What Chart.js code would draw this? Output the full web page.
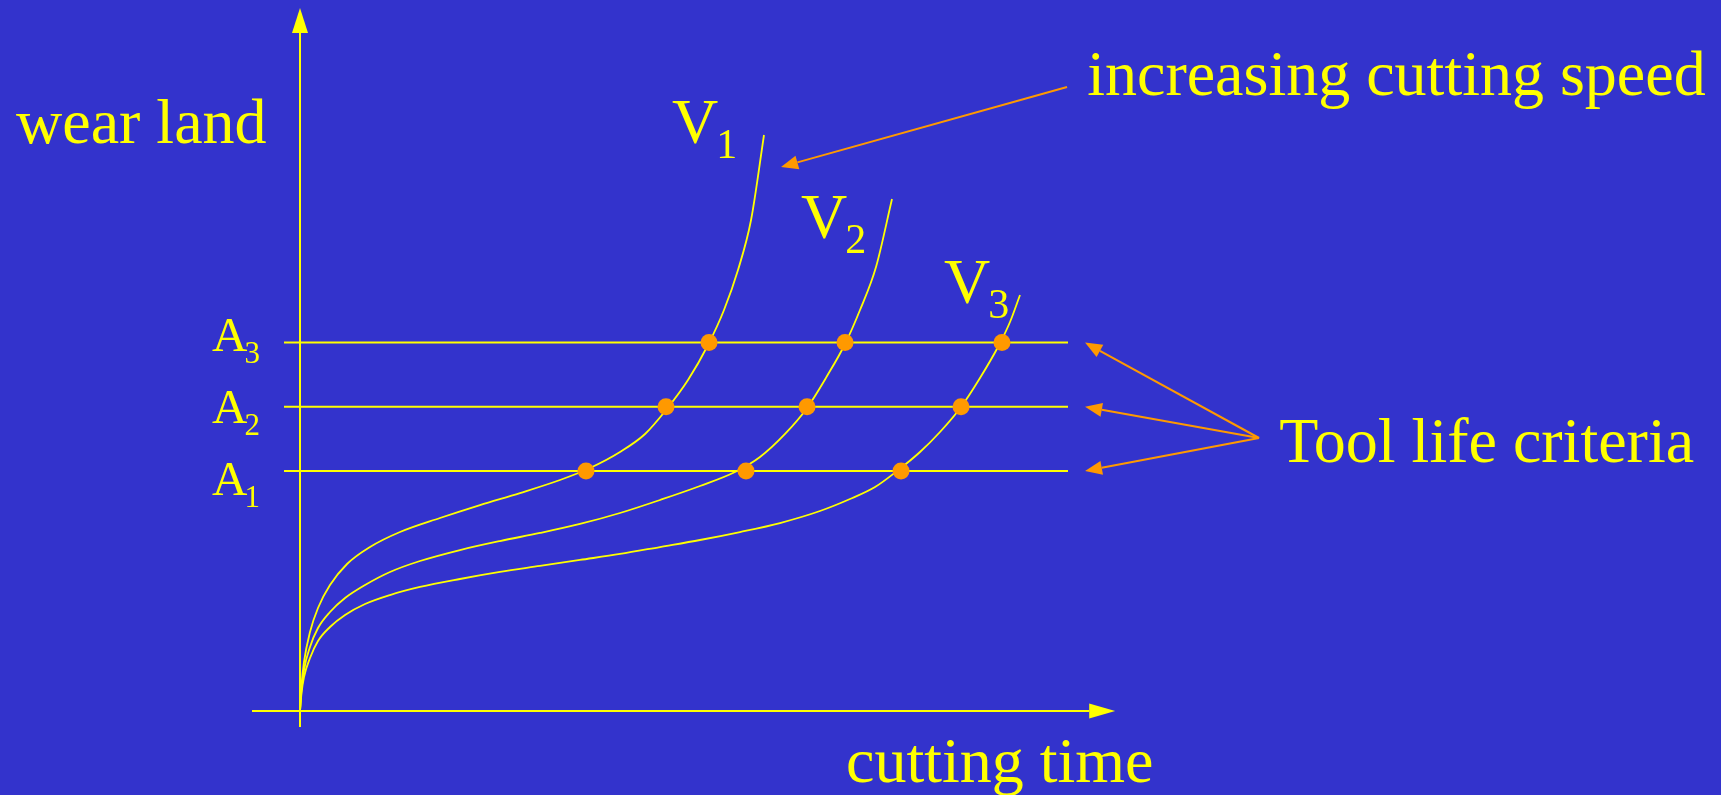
<!DOCTYPE html>
<html>
<head>
<meta charset="utf-8">
<script src="https://cdn.jsdelivr.net/npm/chart.js@4/dist/chart.umd.min.js"></script>
<style>
  html, body { margin: 0; padding: 0; background: #3333CC; overflow: hidden; }
  #wrap { width: 1721px; height: 795px; }
</style>
</head>
<body>
<div id="wrap"><canvas id="c" width="1721" height="795"></canvas></div>
<script>
// ---- data (cutting time and wear land in arbitrary units) ----
const seriesNames = ["V1", "V2", "V3"];
const timeV1 = [0, 0.19, 0.5, 1.25, 2.25, 3.75, 5.88, 8.75, 12.5, 17.5, 22.5, 27.5, 32.5, 36.25, 40, 43.13, 45.75, 48.5, 51, 53, 54.75, 56.38, 58];
const wearV1 = [0, 4.33, 8.17, 13.17, 17.17, 21, 24.5, 27.33, 29.83, 32.17, 34.33, 36.33, 38.5, 40.5, 43.17, 46.17, 50.17, 55.17, 61, 66.83, 73.5, 81.83, 96];
const timeV2 = [0, 0.19, 0.5, 1.25, 2.25, 3.75, 5.63, 8.13, 11.25, 15, 20, 25, 30, 35, 40, 45, 50, 54.38, 57.5, 60.63, 63.38, 65.88, 68.13, 70, 72, 74];
const wearV2 = [0, 3.5, 6.83, 10.67, 13.83, 16.5, 18.83, 21, 23.17, 25, 26.83, 28.33, 29.67, 31.17, 33, 35.17, 37.5, 39.83, 42.33, 46.17, 50.5, 55.83, 61.17, 66.83, 74, 85.33];
const timeV3 = [0, 0.19, 0.5, 1.25, 2.25, 3.75, 5.63, 8.13, 11.25, 15, 20, 25, 30, 35, 40, 45, 50, 55, 60, 65, 68.75, 71.88, 74.63, 77.5, 80, 82.63, 85, 87.38, 88.75, 90];
const wearV3 = [0, 3, 5.67, 8.83, 11.67, 14, 16, 17.83, 19.33, 20.67, 22, 23.17, 24.17, 25.17, 26.17, 27.33, 28.5, 29.83, 31.33, 33.33, 35.33, 37.33, 40, 43.17, 46.5, 50.67, 55.5, 61, 64.83, 69.33];

const criteriaNames = ["A1", "A2", "A3"];
const criteriaLevels = [40, 50.7, 61.4];
const criteriaSpan = [-2, 96];
const toolLifeV1 = [35.75, 45.75, 51.13];
const toolLifeV2 = [55.75, 63.38, 68.13];
const toolLifeV3 = [75.13, 82.63, 87.75];

const axisXSpan = [-6, 101.9];
const axisYSpan = [-2.67, 117.17];

const labelTitleY = "wear land";
const labelTitleX = "cutting time";
const labelSpeed = "increasing cutting speed";
const labelCriteria = "Tool life criteria";

// ---- styles ----
const BG = "#3333CC";
const YEL = "#FFFF00";
const ORG = "#FF9900";
const FONT = "'Liberation Serif', 'Times New Roman', serif";

const zip = (xs, ys) => xs.map((x, i) => ({ x: x, y: ys[i] }));

const dotPoints = [];
[toolLifeV1, toolLifeV2, toolLifeV3].forEach(arr => arr.forEach((t, i) => dotPoints.push({ x: t, y: criteriaLevels[i] })));

const datasets = [
  { label: "tool life", data: dotPoints, showLine: false, pointRadius: 8.5, pointHoverRadius: 8.5,
    pointBackgroundColor: ORG, pointBorderWidth: 0, clip: false }
];
[[timeV1, wearV1], [timeV2, wearV2], [timeV3, wearV3]].forEach((s, i) => {
  datasets.push({ label: seriesNames[i], data: zip(s[0], s[1]), showLine: true, pointRadius: 0,
    borderColor: YEL, borderWidth: 1.8, cubicInterpolationMode: "monotone", clip: false });
});
criteriaLevels.forEach((lv, i) => {
  datasets.push({ label: criteriaNames[i], data: [{ x: criteriaSpan[0], y: lv }, { x: criteriaSpan[1], y: lv }],
    showLine: true, pointRadius: 0, borderColor: YEL, borderWidth: 2, tension: 0, clip: false });
});

function arrow(ctx, x1, y1, x2, y2, len, half, color, lw) {
  const a = Math.atan2(y2 - y1, x2 - x1);
  const bx = x2 - len * Math.cos(a), by = y2 - len * Math.sin(a);
  ctx.save();
  ctx.strokeStyle = color; ctx.fillStyle = color; ctx.lineWidth = lw;
  ctx.beginPath(); ctx.moveTo(x1, y1); ctx.lineTo(bx, by); ctx.stroke();
  ctx.beginPath();
  ctx.moveTo(x2, y2);
  ctx.lineTo(bx + half * Math.sin(a), by - half * Math.cos(a));
  ctx.lineTo(bx - half * Math.sin(a), by + half * Math.cos(a));
  ctx.closePath(); ctx.fill();
  ctx.restore();
}

const deco = {
  id: "deco",
  beforeDraw(chart) {
    const ctx = chart.ctx;
    ctx.save(); ctx.fillStyle = BG; ctx.fillRect(0, 0, chart.width, chart.height); ctx.restore();
  },
  beforeDatasetsDraw(chart) {
    const ctx = chart.ctx, xs = chart.scales.x, ys = chart.scales.y;
    const x0 = xs.getPixelForValue(0), y0 = ys.getPixelForValue(0);
    arrow(ctx, xs.getPixelForValue(axisXSpan[0]), y0, xs.getPixelForValue(axisXSpan[1]), y0, 26, 7.5, YEL, 2);
    arrow(ctx, x0, ys.getPixelForValue(axisYSpan[0]), x0, ys.getPixelForValue(axisYSpan[1]), 25, 8, YEL, 2);
  },
  afterDraw(chart) {
    const ctx = chart.ctx, xs = chart.scales.x, ys = chart.scales.y;
    const px = v => xs.getPixelForValue(v), py = v => ys.getPixelForValue(v);
    ctx.save();
    ctx.fillStyle = YEL;
    ctx.textBaseline = "alphabetic";
    ctx.textAlign = "left";
    const big = "64px " + FONT;
    ctx.font = big;
    ctx.fillText(labelTitleY, px(-35.5), py(94.67));
    ctx.fillText(labelTitleX, px(68.25), py(-11.83));
    ctx.fillText(labelSpeed, px(98.4), py(102.67));
    ctx.fillText(labelCriteria, px(122.4), py(41.5));
    const vPos = [[46.5, 94.67], [62.63, 78.83], [80.5, 68]];
    vPos.forEach((p, i) => {
      ctx.font = big;
      const x = px(p[0]), y = py(p[1]);
      ctx.fillText("V", x, y);
      const w = ctx.measureText("V").width;
      ctx.font = "42px " + FONT;
      ctx.fillText(seriesNames[i].slice(1), x + w - 2, y + 15);
    });
    const aOffsets = [24, 16, 8];
    criteriaLevels.forEach((lv, i) => {
      ctx.font = "49px " + FONT;
      const x = px(-11), y = py(lv) + aOffsets[i];
      ctx.fillText("A", x, y);
      const w = ctx.measureText("A").width;
      ctx.font = "31px " + FONT;
      ctx.fillText(criteriaNames[i].slice(1), x + w - 3, y + 12);
    });
    ctx.restore();
    arrow(ctx, px(95.88), py(104), px(60.13), py(90.67), 17, 7, ORG, 2);
    criteriaLevels.forEach(lv => {
      arrow(ctx, px(119.88), py(45.5), px(98.13), py(lv), 17, 7, ORG, 2);
    });
  }
};

new Chart(document.getElementById("c"), {
  type: "scatter",
  data: { datasets: datasets },
  options: {
    responsive: false,
    animation: false,
    events: [],
    layout: { padding: { left: 300, top: 111, right: 621, bottom: 84 } },
    plugins: { legend: { display: false }, tooltip: { enabled: false } },
    scales: {
      x: { type: "linear", min: 0, max: 100, display: false },
      y: { type: "linear", min: 0, max: 100, display: false }
    }
  },
  plugins: [deco]
});
</script>
</body>
</html>
